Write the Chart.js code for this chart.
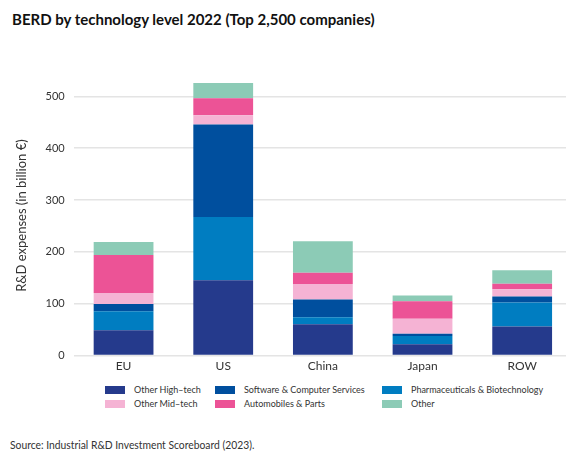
<!DOCTYPE html>
<html>
<head>
<meta charset="utf-8">
<script src="https://cdn.jsdelivr.net/npm/chart.js@4.4.0/dist/chart.umd.min.js"></script>
<style>
  body { margin: 0; width: 566px; height: 451px; overflow: hidden; background: #fff; font-family: Lato, sans-serif; position: relative; }
  #title { position: absolute; left: 12px; top: 10px; font-size: 15px; font-weight: bold; color: #111; }
  #wrap { position: absolute; left: 0; top: 60px; width: 572px; height: 316px; }
  #legend { position: absolute; top: 385px; left: 105px; display: grid; grid-template-columns: 110px 167px 175px; row-gap: 5px; font-size: 9px; color: #333; white-space: nowrap; }
  .item { display: flex; align-items: center; height: 9px; }
  .box { width: 20px; height: 8px; margin-right: 9px; flex: none; }
  #source { position: absolute; left: 10px; top: 437px; font-size: 12px; color: #333; white-space: nowrap; transform: scaleX(0.86); transform-origin: left center; }
</style>
</head>
<body>
<div id="title">BERD by technology level 2022 (Top 2,500 companies)</div>
<div id="wrap"><canvas id="berd-chart"></canvas></div>
<div id="legend"></div>
<div id="source">Source: Industrial R&amp;D Investment Scoreboard (2023).</div>
<script>
const regions = ["EU", "US", "China", "Japan", "ROW"];

// billion euro per sector (bottom to top)
const otherHighTech = [49, 145.5, 60.5, 22, 56];
const pharma = [36.5, 122, 13.5, 16, 46.5];
const software = [14, 178, 34, 4, 11.5];
const otherMidTech = [21, 18, 30, 29, 14];
const automobiles = [73.5, 33, 22, 34, 10.5];
const other = [25, 29, 60.5, 11, 26];

const yTicks = [0, 100, 200, 300, 400, 500];

const series = [
  { label: "Other High–tech", data: otherHighTech, color: "#253a8c" },
  { label: "Pharmaceuticals & Biotechnology", data: pharma, color: "#007dc1" },
  { label: "Software & Computer Services", data: software, color: "#004f9e" },
  { label: "Other Mid–tech", data: otherMidTech, color: "#f5b3d4" },
  { label: "Automobiles & Parts", data: automobiles, color: "#ec5396" },
  { label: "Other", data: other, color: "#8ccbb6" }
];

// legend is laid out in rows of three like the original
const legendOrder = [0, 2, 1, 3, 4, 5];
const legend = document.getElementById("legend");
legendOrder.forEach(i => {
  const s = series[i];
  const el = document.createElement("div");
  el.className = "item";
  el.innerHTML = '<span class="box" style="background:' + s.color + '"></span><span></span>';
  el.lastChild.textContent = s.label;
  legend.appendChild(el);
});

new Chart(document.getElementById("berd-chart"), {
  type: "bar",
  data: {
    labels: regions,
    datasets: series.map(s => ({
      label: s.label,
      data: s.data,
      backgroundColor: s.color,
      barPercentage: 0.6,
      categoryPercentage: 1
    }))
  },
  options: {
    responsive: true,
    maintainAspectRatio: false,
    animation: false,
    layout: { padding: { left: 10, top: 8.3, right: 0, bottom: 0 } },
    plugins: {
      legend: { display: false },
      tooltip: { enabled: false }
    },
    scales: {
      x: {
        stacked: true,
        grid: { display: false, drawTicks: false },
        border: { display: false },
        ticks: { color: "#333", font: { family: "Lato", size: 12 }, padding: 3 }
      },
      y: {
        stacked: true,
        min: 0,
        max: 540,
        afterBuildTicks: scale => { scale.ticks = yTicks.map(v => ({ value: v })); },
        grid: { color: "#e4e4e4", lineWidth: 1.5, drawTicks: false },
        border: { display: false },
        ticks: { color: "#333", font: { family: "Lato", size: 11 }, padding: 9 },
        title: {
          display: true,
          text: "R&D expenses (in billion €)",
          color: "#333",
          font: { family: "Lato", size: 13 },
          padding: { top: 4, bottom: 7 }
        }
      }
    }
  }
});
</script>
</body>
</html>
